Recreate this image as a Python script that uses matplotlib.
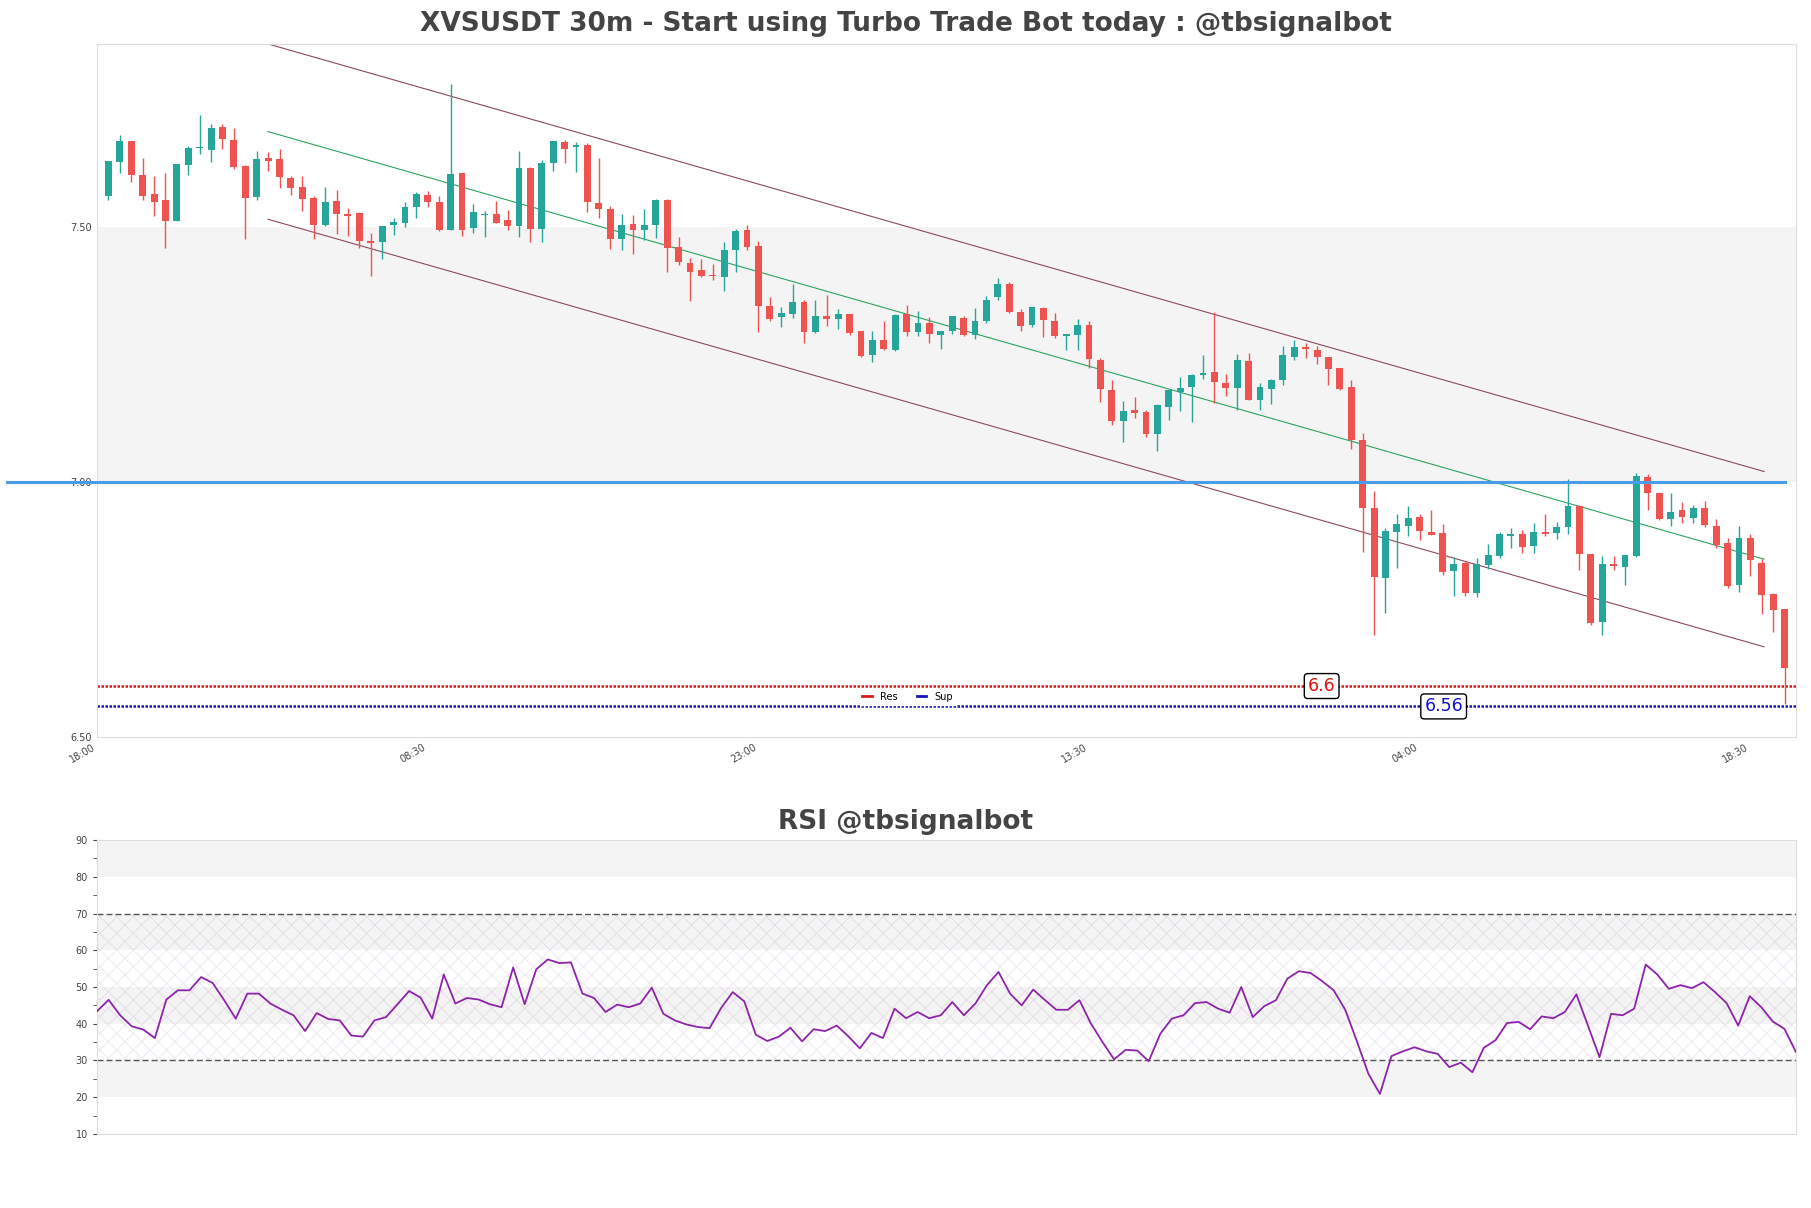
import numpy as np
import pandas as pd
import matplotlib
matplotlib.use("Agg")
import matplotlib.pyplot as plt

## Données

opens = [7.562, 7.629, 7.669, 7.603, 7.566, 7.554, 7.513, 7.622, 7.655, 7.652,
         7.697, 7.671, 7.620, 7.560, 7.636, 7.634, 7.597, 7.579, 7.558, 7.505,
         7.552, 7.526, 7.528, 7.473, 7.472, 7.504, 7.509, 7.541, 7.564, 7.550,
         7.494, 7.607, 7.498, 7.525, 7.526, 7.515, 7.502, 7.616, 7.496, 7.626,
         7.667, 7.657, 7.662, 7.547, 7.536, 7.478, 7.507, 7.494, 7.504, 7.554,
         7.462, 7.431, 7.416, 7.407, 7.402, 7.456, 7.495, 7.464, 7.346, 7.325,
         7.331, 7.354, 7.295, 7.327, 7.320, 7.331, 7.297, 7.250, 7.280, 7.260,
         7.330, 7.295, 7.312, 7.288, 7.297, 7.323, 7.288, 7.317, 7.363, 7.389,
         7.335, 7.308, 7.342, 7.317, 7.287, 7.288, 7.309, 7.240, 7.180, 7.120,
         7.141, 7.137, 7.095, 7.147, 7.178, 7.186, 7.211, 7.216, 7.195, 7.184,
         7.237, 7.161, 7.182, 7.200, 7.245, 7.265, 7.260, 7.245, 7.225, 7.186,
         7.082, 6.950, 6.812, 6.902, 6.915, 6.932, 6.903, 6.901, 6.826, 6.842,
         6.782, 6.837, 6.855, 6.894, 6.898, 6.875, 6.903, 6.900, 6.912, 6.953,
         6.860, 6.726, 6.840, 6.833, 6.856, 7.010, 6.978, 6.927, 6.945, 6.930,
         6.950, 6.915, 6.880, 6.799, 6.890, 6.842, 6.780, 6.751]
highs = [7.630, 7.681, 7.669, 7.636, 7.601, 7.606, 7.624, 7.660, 7.720, 7.703,
         7.703, 7.695, 7.622, 7.650, 7.648, 7.654, 7.600, 7.601, 7.562, 7.579,
         7.573, 7.538, 7.530, 7.489, 7.503, 7.518, 7.550, 7.570, 7.572, 7.562,
         7.782, 7.607, 7.546, 7.532, 7.552, 7.534, 7.650, 7.619, 7.632, 7.670,
         7.671, 7.668, 7.665, 7.636, 7.542, 7.526, 7.524, 7.536, 7.556, 7.556,
         7.481, 7.440, 7.438, 7.428, 7.471, 7.496, 7.505, 7.474, 7.363, 7.344,
         7.389, 7.357, 7.358, 7.368, 7.340, 7.331, 7.297, 7.297, 7.317, 7.331,
         7.348, 7.336, 7.324, 7.297, 7.327, 7.327, 7.342, 7.366, 7.400, 7.392,
         7.340, 7.344, 7.344, 7.332, 7.290, 7.320, 7.317, 7.243, 7.201, 7.160,
         7.167, 7.141, 7.154, 7.180, 7.206, 7.212, 7.250, 7.335, 7.212, 7.251,
         7.253, 7.195, 7.203, 7.268, 7.280, 7.273, 7.268, 7.245, 7.225, 7.201,
         7.097, 6.982, 6.910, 6.937, 6.953, 6.938, 6.946, 6.918, 6.854, 6.845,
         6.851, 6.878, 6.902, 6.910, 6.907, 6.920, 6.937, 6.922, 7.007, 6.956,
         6.860, 6.856, 6.856, 6.858, 7.018, 7.016, 6.978, 6.978, 6.961, 6.956,
         6.964, 6.927, 6.890, 6.915, 6.898, 6.850, 6.783, 6.751]
lows = [7.553, 7.607, 7.590, 7.554, 7.523, 7.460, 7.513, 7.603, 7.645, 7.629,
        7.654, 7.615, 7.478, 7.553, 7.611, 7.578, 7.564, 7.533, 7.478, 7.502,
        7.487, 7.484, 7.460, 7.404, 7.438, 7.486, 7.500, 7.519, 7.541, 7.492,
        7.494, 7.484, 7.490, 7.482, 7.509, 7.495, 7.482, 7.471, 7.471, 7.611,
        7.626, 7.609, 7.531, 7.518, 7.457, 7.455, 7.447, 7.476, 7.479, 7.412,
        7.427, 7.355, 7.402, 7.396, 7.376, 7.412, 7.455, 7.294, 7.316, 7.304,
        7.323, 7.274, 7.293, 7.306, 7.301, 7.289, 7.245, 7.235, 7.260, 7.257,
        7.287, 7.286, 7.274, 7.261, 7.291, 7.286, 7.281, 7.312, 7.357, 7.332,
        7.296, 7.304, 7.285, 7.283, 7.259, 7.259, 7.224, 7.157, 7.112, 7.078,
        7.126, 7.089, 7.061, 7.122, 7.140, 7.118, 7.203, 7.155, 7.169, 7.142,
        7.162, 7.142, 7.154, 7.190, 7.239, 7.244, 7.232, 7.190, 7.180, 7.065,
        6.863, 6.701, 6.744, 6.832, 6.894, 6.886, 6.896, 6.817, 6.777, 6.777,
        6.775, 6.829, 6.852, 6.870, 6.862, 6.862, 6.894, 6.889, 6.898, 6.827,
        6.720, 6.701, 6.827, 6.799, 6.854, 6.945, 6.926, 6.914, 6.920, 6.920,
        6.913, 6.870, 6.792, 6.785, 6.815, 6.742, 6.707, 6.565]
closes = [7.630, 7.669, 7.602, 7.562, 7.550, 7.513, 7.624, 7.656, 7.656, 7.695,
          7.674, 7.619, 7.558, 7.634, 7.631, 7.598, 7.578, 7.556, 7.504, 7.550,
          7.527, 7.523, 7.474, 7.470, 7.503, 7.510, 7.540, 7.566, 7.549, 7.494,
          7.605, 7.494, 7.530, 7.527, 7.509, 7.502, 7.616, 7.496, 7.627, 7.669,
          7.654, 7.661, 7.549, 7.536, 7.478, 7.505, 7.494, 7.505, 7.554, 7.459,
          7.433, 7.413, 7.405, 7.404, 7.456, 7.493, 7.462, 7.346, 7.321, 7.332,
          7.354, 7.295, 7.327, 7.320, 7.330, 7.293, 7.248, 7.280, 7.261, 7.329,
          7.295, 7.312, 7.290, 7.297, 7.327, 7.289, 7.317, 7.358, 7.389, 7.335,
          7.306, 7.344, 7.319, 7.287, 7.290, 7.309, 7.242, 7.183, 7.120, 7.139,
          7.136, 7.095, 7.151, 7.180, 7.185, 7.211, 7.214, 7.196, 7.184, 7.240,
          7.162, 7.186, 7.200, 7.250, 7.265, 7.262, 7.245, 7.223, 7.182, 7.082,
          6.949, 6.814, 6.905, 6.918, 6.929, 6.904, 6.896, 6.824, 6.839, 6.782,
          6.839, 6.857, 6.898, 6.898, 6.873, 6.903, 6.898, 6.913, 6.953, 6.860,
          6.723, 6.840, 6.836, 6.858, 7.013, 6.979, 6.927, 6.942, 6.932, 6.950,
          6.916, 6.876, 6.797, 6.890, 6.847, 6.778, 6.749, 6.635]

rsi = [43.4, 46.5, 42.3, 39.3, 38.4, 36.1, 46.6, 49.1, 49.1, 52.7,
       51.1, 46.4, 41.4, 48.2, 48.2, 45.5, 43.8, 42.3, 38.0, 42.9,
       41.3, 40.9, 36.8, 36.5, 40.9, 41.8, 45.3, 48.9, 47.1, 41.4,
       53.4, 45.5, 47.0, 46.6, 45.3, 44.5, 55.3, 45.3, 54.8, 57.5,
       56.5, 56.7, 48.2, 47.0, 43.2, 45.2, 44.5, 45.5, 49.8, 42.7,
       40.9, 39.8, 39.1, 38.8, 44.3, 48.6, 46.1, 37.0, 35.3, 36.5,
       38.9, 35.2, 38.5, 38.0, 39.5, 36.6, 33.3, 37.5, 36.1, 44.1,
       41.5, 43.2, 41.5, 42.3, 45.9, 42.3, 45.5, 50.5, 54.1, 48.2,
       45.0, 49.3, 46.5, 43.8, 43.8, 46.4, 40.0, 35.0, 30.3, 32.9,
       32.7, 29.8, 37.3, 41.4, 42.3, 45.6, 45.9, 44.1, 43.0, 50.0,
       41.8, 44.8, 46.4, 52.3, 54.3, 53.8, 51.6, 49.1, 43.8, 35.3,
       26.4, 20.9, 31.2, 32.5, 33.6, 32.5, 31.8, 28.2, 29.4, 26.8,
       33.5, 35.5, 40.2, 40.5, 38.5, 42.0, 41.5, 43.2, 48.0, 39.5,
       30.9, 42.7, 42.3, 44.1, 56.1, 53.4, 49.5, 50.5, 49.7, 51.3,
       48.6, 45.6, 39.5, 47.5, 44.5, 40.6, 38.6, 32.3]

# canal de tendance (début, fin)
chan_x = [15, 146.2]
chan_mid = [7.688, 6.849]
chan_width = 0.172

resistance = 6.6
support = 6.56
level = 7.0
level_x = [-7.9, 148]
res_label_x = 107.4
sup_label_x = 118.1

N = len(closes)
times = pd.date_range("2024-01-01 18:00", periods=N + 1, freq="30min")
x = np.arange(1, N + 1)

UP = "#26a69a"
DOWN = "#ef5350"

plt.rcParams["hatch.linewidth"] = 0.6

fig = plt.figure(figsize=(18.11, 12.08), dpi=100)
ax = fig.add_axes([0.0536, 0.3899, 0.9381, 0.5737])
ax2 = fig.add_axes([0.0536, 0.0613, 0.9381, 0.2433])

fig.text(0.5, 0.9805, "XVSUSDT 30m - Start using Turbo Trade Bot today : @tbsignalbot",
         ha="center", va="center", fontsize=19, fontweight="bold", color="#444444")
fig.text(0.5, 0.3195, "RSI @tbsignalbot",
         ha="center", va="center", fontsize=19, fontweight="bold", color="#444444")

## Bougies

o = np.array(opens)
c = np.array(closes)
h = np.array(highs)
l = np.array(lows)
col = np.where(c >= o, UP, DOWN)
ax.vlines(x, l, h, colors=col, linewidth=1.0, zorder=3)
ax.bar(x, np.maximum(np.abs(c - o), 0.002), bottom=np.minimum(o, c),
       width=0.6, color=col, zorder=4)

ax.axhspan(7.0, 7.5, color="#f4f4f4", zorder=0, lw=0)

mid = np.array(chan_mid)
ax.plot(chan_x, mid + chan_width, color="#8c4a5e", lw=0.8, zorder=2)
ax.plot(chan_x, mid, color="#2ca25f", lw=0.8, zorder=2)
ax.plot(chan_x, mid - chan_width, color="#8c4a5e", lw=0.8, zorder=2)

ax.plot(level_x, [level, level], color="#4a9ce8", lw=2.2, zorder=5, clip_on=False)

ax.axhline(resistance, color="#d81b1b", ls=(0, (1, 0.6)), lw=1.8, label="Res", zorder=2)
ax.axhline(support, color="#1515b8", ls=(0, (1, 0.6)), lw=1.8, label="Sup", zorder=2)
ax.text(res_label_x, resistance, "6.6", color="#e01010", fontsize=12.5,
        ha="center", va="center", zorder=6,
        bbox=dict(boxstyle="round,pad=0.2", fc="white", ec="black", lw=1))
ax.text(sup_label_x, support, "6.56", color="#1010d0", fontsize=12.5,
        ha="center", va="center", zorder=6,
        bbox=dict(boxstyle="round,pad=0.2", fc="white", ec="black", lw=1))

leg = ax.legend(loc="center", bbox_to_anchor=(0.477, 0.058), ncol=2, fontsize=7,
                handlelength=1.0, frameon=True, framealpha=1, edgecolor="white",
                borderpad=0.3, columnspacing=2.0)
for line in leg.get_lines():
    line.set_linestyle("-")
    line.set_linewidth(2)

ax.set_xlim(0, N + 1)
ax.set_ylim(6.5, 7.86)
ax.set_yticks([6.5, 7.0, 7.5])
ax.set_yticklabels(["6.50", "7.00", "7.50"])
ticks = np.arange(0, N + 1, 29)
ax.set_xticks(ticks)
ax.set_xticklabels([times[t].strftime("%H:%M") for t in ticks], rotation=30, ha="right")
ax.tick_params(length=0, labelsize=7, colors="#444444", pad=4)
for s in ax.spines.values():
    s.set_color("#dddddd")

## RSI

xr = np.arange(len(rsi))
for lo in [20, 40, 60, 80]:
    ax2.axhspan(lo, lo + 10, color="#f4f4f4", lw=0, zorder=0)
ax2.fill_between(xr, 30, 70, facecolor="none", hatch="xx",
                 edgecolor=(0.6, 0.45, 0.7, 0.18), linewidth=0, zorder=1)
ax2.axhline(70, color="#555555", lw=1, dashes=(4.3, 2.2), zorder=2)
ax2.axhline(30, color="#555555", lw=1, dashes=(4.3, 2.2), zorder=2)
ax2.plot(xr, rsi, color="#8e24aa", lw=1.3, zorder=3)

ax2.set_xlim(0, len(rsi) - 1)
ax2.set_ylim(10, 90)
ax2.set_yticks(np.arange(10, 91, 10))
ax2.set_yticks(np.arange(15, 90, 10), minor=True)
ax2.set_xticks([])
ax2.tick_params(axis="y", which="both", length=3, labelsize=7, colors="#444444")
for s in ax2.spines.values():
    s.set_color("#dddddd")

plt.savefig("out.png", dpi=100)
